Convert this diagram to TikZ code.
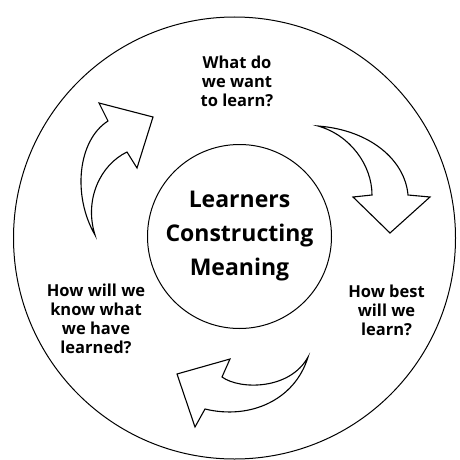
\documentclass[tikz,border=0pt]{standalone}
\usepackage{fontspec}
\newfontfamily\cyclefont{Open Sans}
\usepackage{tikz}
\tikzset{
    rim/.style={circle, draw, line width=1pt, minimum size=442pt, inner sep=0pt}
}
\tikzset{
    hub/.style={circle, draw, line width=1pt, minimum size=184pt, inner sep=0pt,
    	align=center, font=\cyclefont\bfseries\fontsize{23}{34}\selectfont}
}
\tikzset{
    question/.style={align=center, inner sep=0pt,
    	font=\cyclefont\bfseries\fontsize{16.5}{19}\selectfont}
}
\tikzset{
    blockarrow/.style={draw, line width=1.1pt, line join=miter, fill=white}
}

\begin{document}
\begin{tikzpicture}[x=1pt,y=-1pt]
	\useasboundingbox (0,0) rectangle (459,460);
	\node[rim] (rim) at (234.5,238) {};
	\node[hub] (hub) at (239.5,236.5) {Learners\\Constructing\\Meaning};
	
	\node[question] (want) at (237,81.5) {What do\\we want\\to learn?};
	\node[question] (best) at (386.5,310) {How best\\will we\\learn?};
	\node[question] (know) at (96,319) {How will we\\know what\\we have\\learned?};
	
	% arrow up towards the top question
	\draw[blockarrow] (95,235) .. controls (72,195) and (78,140) .. (108,121)
		-- (99,103) -- (153,117) -- (137,168) -- (127,152)
		.. controls (100,165) and (84,200) .. (95,235) -- cycle;
	% arrow down to the right question
	\draw[blockarrow] (318,126) .. controls (370,130) and (405,160) .. (408,195)
		-- (430,197) -- (390,233) -- (353,197) -- (372,195)
		.. controls (372,165) and (350,135) .. (318,126) -- cycle;
	% arrow along the bottom
	\draw[blockarrow] (308,357) .. controls (290,390) and (240,390) .. (222,377)
		-- (230,359) -- (177,374) -- (195,427) -- (205,409)
		.. controls (250,420) and (295,400) .. (308,357) -- cycle;
\end{tikzpicture}
\end{document}
